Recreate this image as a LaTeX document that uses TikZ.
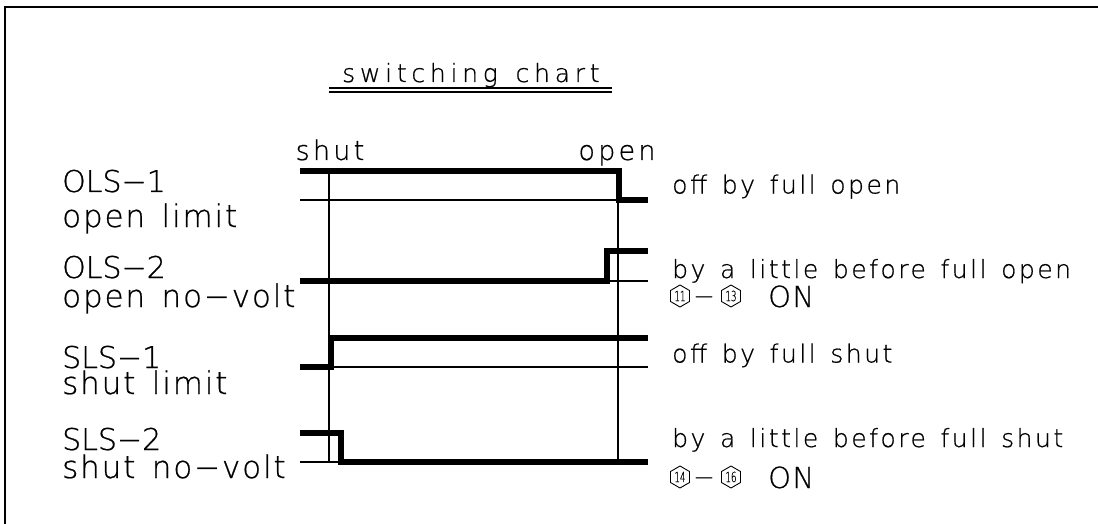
\documentclass[tikz,border=0pt]{standalone}
\usepackage{fontspec}
\setmainfont{DejaVuSans-ExtraLight.ttf}[FakeBold=0.7]
\usetikzlibrary{shapes.geometric}
\newcommand\lsp[2]{\addfontfeatures{LetterSpace=#1}\spaceskip=#2\fontdimen2\font\relax}
\begin{document}
\begin{tikzpicture}[x=1pt,y=-1pt,
  frameline/.style={line width=2pt},
  sig/.style={line width=5.5pt,line join=miter},
  refline/.style={line width=1.1pt},
  hexline/.style={line width=0.9pt,line join=round},
  idlbl/.style={anchor=base west,inner sep=0pt,font=\fontsize{30}{30}\selectfont\lsp{0}{1}},
  desclbl/.style={anchor=base west,inner sep=0pt,font=\fontsize{31}{31}\selectfont\lsp{6}{1.4}},
  rtxt/.style={anchor=base west,inner sep=0pt,font=\fontsize{25}{25}\selectfont\lsp{10}{1.4}},
  ontxt/.style={anchor=base west,inner sep=0pt,font=\fontsize{29}{29}\selectfont\lsp{5}{1}},
  dashtxt/.style={anchor=base,inner sep=0pt,font=\fontsize{26}{26}\selectfont},
  numtxt/.style={inner sep=0pt,font=\fontsize{14}{14}\selectfont},
  toptxt/.style={anchor=base,inner sep=0pt,font=\fontsize{27}{27}\selectfont\lsp{12}{1}},
  titletxt/.style={anchor=base west,inner sep=0pt,font=\fontsize{25}{25}\selectfont\lsp{19}{1.4}}]
\useasboundingbox (0,0) rectangle (1098,524);
% frame
\draw[frameline] (5,524) -- (5,7) -- (1098,7);
% title
\node[titletxt] (title) at (342,82) {switching chart};
\draw[refline] (329,88) -- (612,88);
\draw[refline] (329,92) -- (612,92);
% column labels
\node[toptxt] (shut) at (330,160) {shut};
\node[toptxt] (open) at (617,160) {open};
% grid verticals
\coordinate (vls) at (329,171);
\coordinate (vle) at (329,462);
\coordinate (vrs) at (618,171);
\coordinate (vre) at (618,462);
\draw[refline] (vls) -- (vle);
\draw[refline] (vrs) -- (vre);
% row 1 OLS-1
\draw[refline] (300,200) -- (618,200);
\draw[sig] (300,171) -- (619,171) -- (619,200) -- (648,200);
% row 2 OLS-2
\draw[refline] (607,281) -- (648,281);
\draw[sig] (300,281) -- (607,281) -- (607,251) -- (648,251);
% row 3 SLS-1
\draw[refline] (331,367) -- (648,367);
\draw[sig] (300,367) -- (331,367) -- (331,338) -- (648,338);
% row 4 SLS-2
\draw[refline] (300,462) -- (341,462);
\draw[sig] (300,433) -- (341,433) -- (341,462) -- (648,462);
% left labels
\node[idlbl] (ols1) at (62,192) {OLS−1};
\node[desclbl] (ols1d) at (62,227) {open limit};
\node[idlbl] (ols2) at (62,278) {OLS−2};
\node[desclbl] (ols2d) at (62,307) {open no−volt};
\node[idlbl] (sls1) at (62,368) {SLS−1};
\node[desclbl] (sls1d) at (62,394) {shut limit};
\node[idlbl] (sls2) at (62,450) {SLS−2};
\node[desclbl] (sls2d) at (62,478) {shut no−volt};
% right texts
\node[rtxt] (r1) at (672,193.5) {off by full open};
\node[rtxt] (r2) at (672,278) {by a little before full open};
\node[numtxt] (n11) at (680,296) {\scalebox{0.62}[1]{11}};
\node[dashtxt] (d1) at (704,305) {−};
\node[numtxt] (n13) at (731,296) {\scalebox{0.62}[1]{13}};
\node[ontxt] (on1) at (768,307) {ON};
\node[rtxt] (r3) at (672,362.5) {off by full shut};
\node[rtxt] (r4) at (672,447) {by a little before full shut};
\node[numtxt] (n14) at (680,477) {\scalebox{0.62}[1]{14}};
\node[dashtxt] (d2) at (704,486) {−};
\node[numtxt] (n16) at (731,477) {\scalebox{0.62}[1]{16}};
\node[ontxt] (on2) at (768,488) {ON};
% hexagon outlines round the numbers
\foreach \n in {n11,n13,n14,n16}
  \draw[hexline] (\n.center) +(0,-11) -- +(9.5,-5.5) -- +(9.5,5.5) -- +(0,11)
     -- +(-9.5,5.5) -- +(-9.5,-5.5) -- cycle;
\end{tikzpicture}
\end{document}
